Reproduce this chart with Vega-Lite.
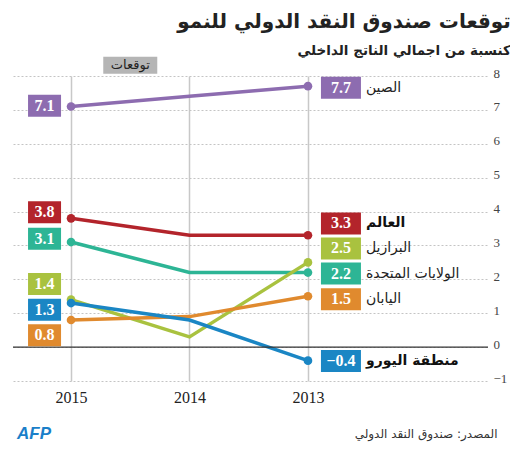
{
  "$schema": "https://vega.github.io/schema/vega-lite/v6.json",
  "width": 475,
  "height": 305,
  "autosize": {"type": "none"},
  "padding": {"left": 13, "top": 76, "right": 22, "bottom": 69},
  "background": "white",
  "title": {
    "text": "توقعات صندوق النقد الدولي للنمو",
    "subtitle": "كنسبة من اجمالي الناتج الداخلي",
    "anchor": "end",
    "dx": 4,
    "offset": -1,
    "font": "DejaVu Sans",
    "fontSize": 20,
    "fontWeight": "bold",
    "color": "#222",
    "subtitleFont": "DejaVu Sans",
    "subtitleFontSize": 13.5,
    "subtitleFontWeight": "bold",
    "subtitleColor": "#222",
    "subtitlePadding": 12
  },
  "config": {
    "view": {"stroke": null},
    "axis": {"labelOverlap": false}
  },
  "datasets": {
    "growth": [
      {"country": "الصين", "year": 2015, "value": 7.1, "labelAt": 7.12},
      {"country": "الصين", "year": 2014, "value": 7.4, "labelAt": null},
      {"country": "الصين", "year": 2013, "value": 7.7, "labelAt": 7.65},
      {"country": "العالم", "year": 2015, "value": 3.8, "labelAt": 3.98},
      {"country": "العالم", "year": 2014, "value": 3.3, "labelAt": null},
      {"country": "العالم", "year": 2013, "value": 3.3, "labelAt": 3.65},
      {"country": "الولايات المتحدة", "year": 2015, "value": 3.1, "labelAt": 3.2},
      {"country": "الولايات المتحدة", "year": 2014, "value": 2.2, "labelAt": null},
      {"country": "الولايات المتحدة", "year": 2013, "value": 2.2, "labelAt": 2.17},
      {"country": "البرازيل", "year": 2015, "value": 1.4, "labelAt": 1.86},
      {"country": "البرازيل", "year": 2014, "value": 0.3, "labelAt": null},
      {"country": "البرازيل", "year": 2013, "value": 2.5, "labelAt": 2.91},
      {"country": "اليابان", "year": 2015, "value": 0.8, "labelAt": 0.35},
      {"country": "اليابان", "year": 2014, "value": 0.9, "labelAt": null},
      {"country": "اليابان", "year": 2013, "value": 1.5, "labelAt": 1.41},
      {"country": "منطقة اليورو", "year": 2015, "value": 1.3, "labelAt": 1.1},
      {"country": "منطقة اليورو", "year": 2014, "value": 0.8, "labelAt": null},
      {"country": "منطقة اليورو", "year": 2013, "value": -0.4, "labelAt": -0.41}
    ]
  },
  "data": {"name": "growth"},
  "layer": [
    {
      "mark": {"type": "line", "strokeWidth": 3.5},
      "encoding": {
        "x": {
          "field": "year", "type": "quantitative",
          "scale": {"domain": [2011.48, 2015.49], "reverse": true, "nice": false, "zero": false},
          "axis": {
            "values": [2015, 2014, 2013], "format": "d",
            "grid": true, "gridColor": "#c8c8c8", "gridWidth": 1.5,
            "domain": false, "ticks": false,
            "labelFont": "Liberation Serif", "labelFontSize": 16, "labelColor": "#222", "labelPadding": 8,
            "title": "AFP", "titleX": 20.5, "titleY": 52, "titleAlign": "center", "titleBaseline": "middle",
            "titleFont": "Liberation Sans", "titleFontSize": 17, "titleFontStyle": "italic", "titleFontWeight": "bold", "titleColor": "#1a7fc9"
          }
        },
        "y": {
          "field": "value", "type": "quantitative",
          "scale": {"domain": [-1, 8], "nice": false, "zero": false},
          "axis": {
            "orient": "right", "values": [-1, 0, 1, 2, 3, 4, 5, 6, 7, 8], "tickCount": 10,
            "labelOverlap": false, "format": "d",
            "grid": true, "gridDash": [2, 2], "gridColor": "#c4c4c4", "gridWidth": 1,
            "domain": false, "ticks": false,
            "labelFont": "Liberation Serif", "labelFontSize": 13, "labelColor": "#444",
            "labelPadding": 5, "labelOffset": -3, "labelAlign": "left",
            "title": "المصدر: صندوق النقد الدولي", "titleAngle": 0, "titleX": 9, "titleY": 357,
            "titleAlign": "right", "titleBaseline": "middle",
            "titleFont": "DejaVu Sans", "titleFontSize": 12, "titleFontWeight": "normal", "titleColor": "#333"
          }
        },
        "color": {
          "field": "country", "type": "nominal",
          "scale": {
            "domain": ["الصين", "العالم", "الولايات المتحدة", "البرازيل", "اليابان", "منطقة اليورو"],
            "range": ["#8d6cb0", "#b3242b", "#2db595", "#a9c23f", "#e08a2e", "#1a86c4"]
          },
          "legend": null
        }
      }
    },
    {
      "data": {"values": [{}]},
      "mark": {"type": "rule", "color": "#333", "strokeWidth": 1.2},
      "encoding": {"y": {"datum": 0}}
    },
    {
      "transform": [{"filter": "datum.year != 2014"}],
      "mark": {"type": "circle", "size": 75, "opacity": 1},
      "encoding": {
        "x": {"field": "year", "type": "quantitative"},
        "y": {"field": "value", "type": "quantitative"},
        "color": {"field": "country", "type": "nominal"}
      }
    },
    {
      "transform": [{"filter": "datum.year == 2015"}],
      "mark": {"type": "rect", "width": 33, "height": 22, "xOffset": -26.5},
      "encoding": {
        "x": {"field": "year", "type": "quantitative"},
        "y": {"field": "labelAt", "type": "quantitative"},
        "color": {"field": "country", "type": "nominal"}
      }
    },
    {
      "transform": [{"filter": "datum.year == 2015"}],
      "mark": {"type": "text", "xOffset": -26.5, "font": "Liberation Serif", "fontWeight": "bold", "fontSize": 16, "color": "white", "align": "center", "baseline": "middle"},
      "encoding": {
        "x": {"field": "year", "type": "quantitative"},
        "y": {"field": "labelAt", "type": "quantitative"},
        "text": {"field": "value", "type": "quantitative", "format": ".1f"}
      }
    },
    {
      "transform": [{"filter": "datum.year == 2013"}],
      "mark": {"type": "rect", "width": 40, "height": 22, "xOffset": 33},
      "encoding": {
        "x": {"field": "year", "type": "quantitative"},
        "y": {"field": "labelAt", "type": "quantitative"},
        "color": {"field": "country", "type": "nominal"}
      }
    },
    {
      "transform": [{"filter": "datum.year == 2013"}],
      "mark": {"type": "text", "xOffset": 33, "font": "Liberation Serif", "fontWeight": "bold", "fontSize": 16, "color": "white", "align": "center", "baseline": "middle"},
      "encoding": {
        "x": {"field": "year", "type": "quantitative"},
        "y": {"field": "labelAt", "type": "quantitative"},
        "text": {"field": "value", "type": "quantitative", "format": ".1f"}
      }
    },
    {
      "transform": [{"filter": "datum.year == 2013 && datum.country != 'العالم' && datum.country != 'منطقة اليورو'"}],
      "mark": {"type": "text", "xOffset": 58, "font": "DejaVu Sans", "fontSize": 14, "color": "#222", "align": "left", "baseline": "middle"},
      "encoding": {
        "x": {"field": "year", "type": "quantitative"},
        "y": {"field": "labelAt", "type": "quantitative"},
        "text": {"field": "country", "type": "nominal"}
      }
    },
    {
      "transform": [{"filter": "datum.year == 2013 && (datum.country == 'العالم' || datum.country == 'منطقة اليورو')"}],
      "mark": {"type": "text", "xOffset": 58, "font": "DejaVu Sans", "fontSize": 14, "fontWeight": "bold", "color": "#111", "align": "left", "baseline": "middle"},
      "encoding": {
        "x": {"field": "year", "type": "quantitative"},
        "y": {"field": "labelAt", "type": "quantitative"},
        "text": {"field": "country", "type": "nominal"}
      }
    },
    {
      "data": {"values": [{"label": "توقعات"}]},
      "mark": {"type": "rect", "width": 54, "height": 17, "color": "#b5b5b5"},
      "encoding": {"x": {"datum": 2014.5}, "y": {"datum": 8.32}}
    },
    {
      "data": {"values": [{"label": "توقعات"}]},
      "mark": {"type": "text", "font": "DejaVu Sans", "fontSize": 13, "color": "#222", "align": "center", "baseline": "middle"},
      "encoding": {"x": {"datum": 2014.5}, "y": {"datum": 8.32}, "text": {"field": "label"}}
    }
  ]
}
